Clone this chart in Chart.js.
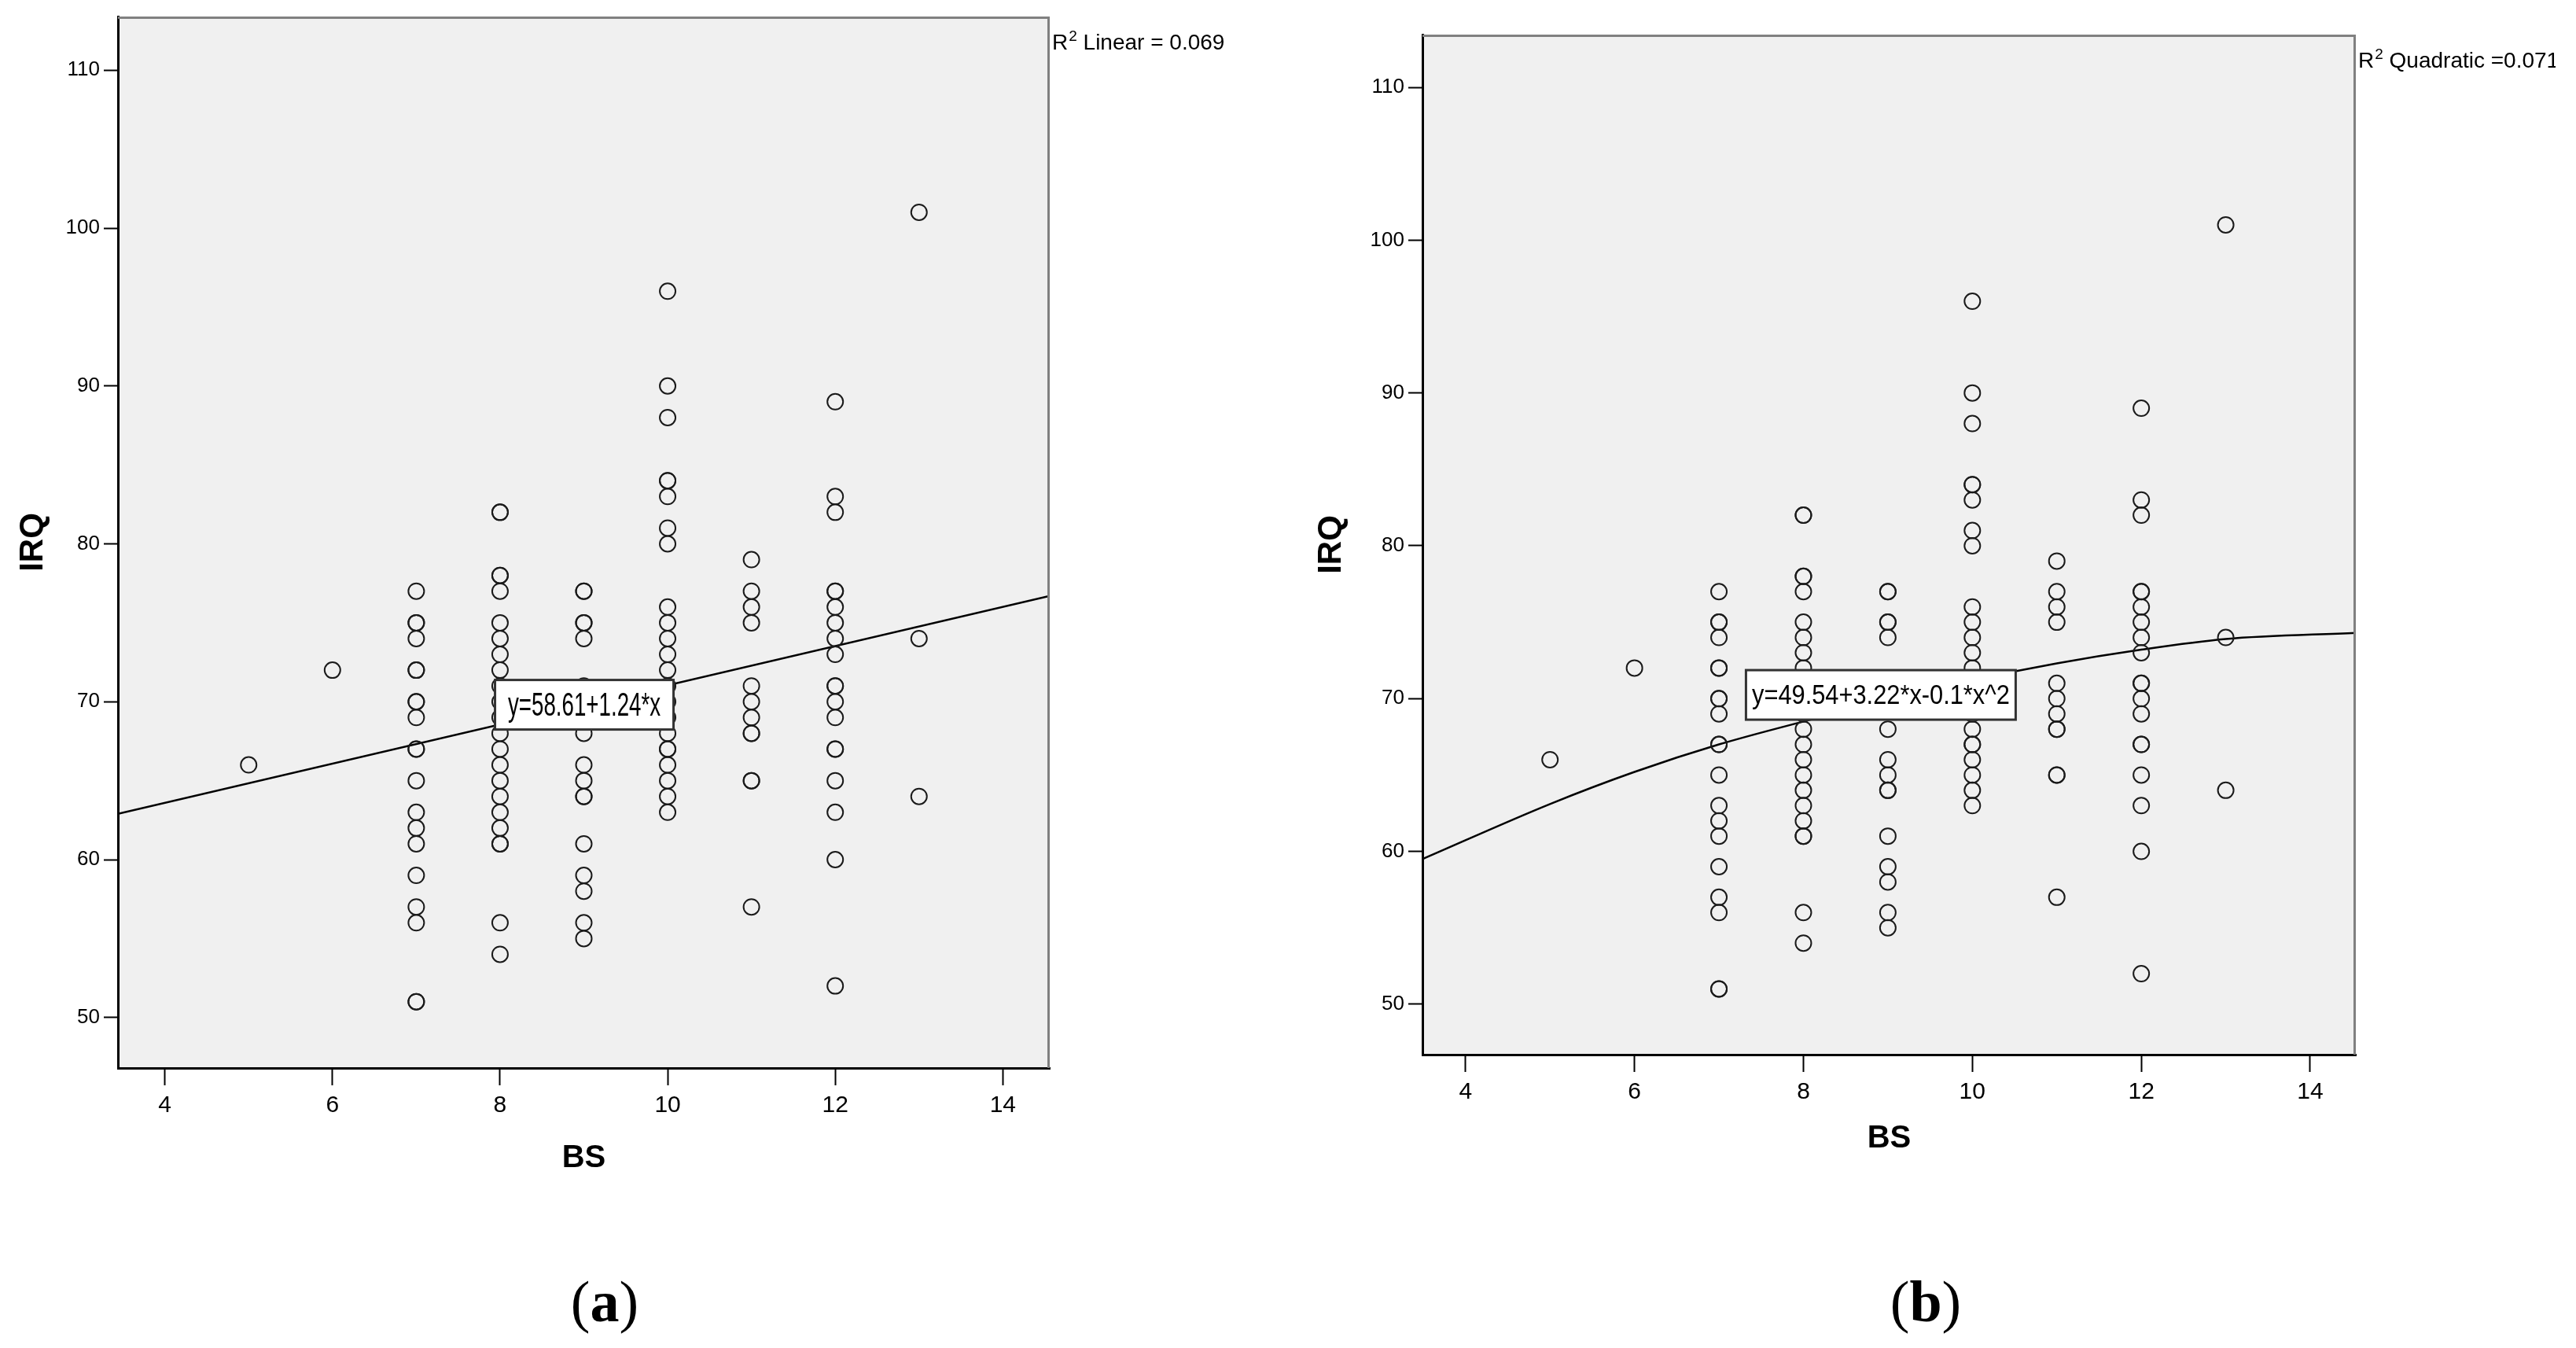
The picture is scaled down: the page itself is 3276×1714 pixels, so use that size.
<!DOCTYPE html>
<html>
<head>
<meta charset="utf-8">
<title>IRQ vs BS</title>
<script src="https://cdn.jsdelivr.net/npm/chart.js@4.4.1/dist/chart.umd.min.js"></script>
<style>
  body {
    margin: 0;
    width: 3276px;
    height: 1714px;
    background: #fff;
    position: relative;
    overflow: hidden;
  }
  .panel { position: absolute; top: 0; }
  .caption {
    position: absolute;
    top: 1618px;
    font-family: "Liberation Serif", "Times New Roman", serif;
    font-size: 74px;
    line-height: 1;
    transform: translateX(-50%);
    color: #000;
  }
</style>
</head>
<body>
<div class="panel" style="left:0px"><canvas id="chartA" width="1600" height="1498"></canvas></div>
<div class="panel" style="left:1650px"><canvas id="chartB" width="1600" height="1481"></canvas></div>
<div class="caption" style="left:769px">(<b>a</b>)</div>
<div class="caption" style="left:2449px">(<b>b</b>)</div>

<script>
// BS scores and the IRQ values found at each of them (same data in both panels)
const bsLevels = [5, 6, 7, 8, 9, 10, 11, 12, 13];
const irqAtBs5 = [66];
const irqAtBs6 = [72];
const irqAtBs7 = [77, 75, 75, 74, 72, 72, 70, 70, 69, 67, 67, 65, 63, 62, 61, 59, 57, 56, 51, 51];
const irqAtBs8 = [82, 82, 78, 78, 77, 75, 74, 73, 72, 71, 70, 69, 68, 67, 66, 65, 64, 63, 62, 61, 61, 56, 54];
const irqAtBs9 = [77, 77, 75, 75, 74, 71, 68, 66, 65, 64, 64, 61, 59, 58, 56, 55];
const irqAtBs10 = [96, 90, 88, 84, 84, 83, 81, 80, 76, 75, 74, 73, 72, 71, 70, 69, 68, 67, 67, 66, 65, 64, 63];
const irqAtBs11 = [79, 77, 76, 75, 71, 70, 69, 68, 68, 65, 65, 57];
const irqAtBs12 = [89, 83, 82, 77, 77, 76, 75, 74, 73, 71, 71, 70, 69, 67, 67, 65, 63, 60, 52];
const irqAtBs13 = [101, 74, 64];

const xTickValues = [4, 6, 8, 10, 12, 14];
const yTickValues = [50, 60, 70, 80, 90, 100, 110];

// fit lines
const linearFitX = [3.44, 14.56];
const linearFitY = [62.9, 76.7];
const quadFitX = [3.49, 5, 6, 7, 8, 9, 10, 11, 12, 13, 14.54];
const quadFitY = [59.5, 63.1, 65.2, 67.0, 68.5, 69.9, 71.2, 72.3, 73.2, 73.9, 74.3];

const irqByBs = [irqAtBs5, irqAtBs6, irqAtBs7, irqAtBs8, irqAtBs9, irqAtBs10, irqAtBs11, irqAtBs12, irqAtBs13];

function scatterPoints() {
  const pts = [];
  bsLevels.forEach((bs, i) => {
    irqByBs[i].forEach(v => pts.push({ x: bs, y: v }));
  });
  return pts;
}

function zip(xs, ys) {
  return xs.map((x, i) => ({ x: x, y: ys[i] }));
}

const SANS = '"Liberation Sans", Arial, sans-serif';

// grey plot background, grey top/right frame, R² note
const plotFrame = {
  id: 'plotFrame',
  beforeDraw(chart) {
    const a = chart.chartArea;
    const ctx = chart.ctx;
    ctx.save();
    ctx.fillStyle = '#f0f0f0';
    ctx.fillRect(a.left, a.top, a.right - a.left, a.bottom - a.top);
    ctx.restore();
  },
  afterDraw(chart, args, opts) {
    const a = chart.chartArea;
    const ctx = chart.ctx;
    ctx.save();
    ctx.strokeStyle = '#808080';
    ctx.lineWidth = 3;
    ctx.beginPath();
    ctx.moveTo(a.left, a.top + 1.5);
    ctx.lineTo(a.right - 1.5, a.top + 1.5);
    ctx.lineTo(a.right - 1.5, a.bottom);
    ctx.stroke();

    // R² label
    ctx.fillStyle = '#000';
    ctx.textBaseline = 'alphabetic';
    let x = a.right + 3;
    const base = a.top + 42;
    ctx.font = '28px ' + SANS;
    ctx.fillText('R', x, base);
    x += ctx.measureText('R').width + 1;
    ctx.font = '19px ' + SANS;
    ctx.fillText('2', x, base - 11);
    x += ctx.measureText('2').width;
    ctx.font = '28px ' + SANS;
    ctx.fillText(opts.note, x, base);
    ctx.restore();
  }
};

// white box holding the fitted equation
const eqBox = {
  id: 'eqBox',
  afterDatasetsDraw(chart, args, opts) {
    const ctx = chart.ctx;
    const px = chart.scales.x.getPixelForValue(opts.x);
    const py = chart.scales.y.getPixelForValue(opts.y);
    ctx.save();
    ctx.fillStyle = '#fff';
    ctx.fillRect(px, py - opts.h, opts.w, opts.h);
    ctx.strokeStyle = '#333';
    ctx.lineWidth = 3;
    ctx.strokeRect(px, py - opts.h, opts.w, opts.h);
    ctx.translate(px + opts.w / 2, py - opts.h / 2 + 2);
    ctx.scale(opts.squeeze, 1);
    ctx.fillStyle = '#000';
    ctx.font = opts.size + 'px ' + SANS;
    ctx.textAlign = 'center';
    ctx.textBaseline = 'middle';
    ctx.fillText(opts.text, 0, 0);
    ctx.restore();
  }
};

function makeChart(id, cfg) {
  const ctx = document.getElementById(id).getContext('2d');
  return new Chart(ctx, {
    type: 'scatter',
    data: {
      datasets: [
        {
          data: scatterPoints(),
          pointStyle: 'circle',
          pointRadius: 10,
          pointBorderWidth: 2,
          pointBorderColor: '#1a1a1a',
          pointBackgroundColor: 'rgba(0,0,0,0)'
        },
        {
          type: 'line',
          data: cfg.fit,
          showLine: true,
          pointRadius: 0,
          borderColor: '#000',
          borderWidth: 2.5,
          fill: false,
          cubicInterpolationMode: 'monotone'
        }
      ]
    },
    options: {
      responsive: false,
      animation: false,
      devicePixelRatio: 1,
      layout: { padding: { left: 0, top: cfg.top, right: cfg.right, bottom: 0 } },
      plugins: {
        legend: { display: false },
        tooltip: { enabled: false },
        plotFrame: { note: cfg.note },
        eqBox: cfg.box
      },
      scales: {
        x: {
          type: 'linear',
          min: cfg.xMin,
          max: cfg.xMax,
          afterBuildTicks: s => { s.ticks = xTickValues.map(v => ({ value: v })); },
          afterFit: s => { s.height = 140; },
          grid: { drawOnChartArea: false, drawTicks: true, tickLength: 22, tickWidth: 2, tickColor: '#000' },
          border: { display: true, color: '#000', width: 3 },
          ticks: { color: '#000', font: { family: SANS, size: 30 }, padding: 8, maxRotation: 0 },
          title: {
            display: true, text: 'BS', color: '#000',
            font: { family: SANS, size: 40, weight: 'bold' },
            padding: { top: 0, bottom: cfg.xTitlePad }
          }
        },
        y: {
          type: 'linear',
          min: cfg.yMin,
          max: cfg.yMax,
          afterBuildTicks: s => { s.ticks = yTickValues.map(v => ({ value: v })); },
          afterFit: s => { s.width = cfg.yWidth; },
          grid: { drawOnChartArea: false, drawTicks: true, tickLength: 18, tickWidth: 2, tickColor: '#000' },
          border: { display: true, color: '#000', width: 3 },
          ticks: { color: '#000', font: { family: SANS, size: 26 }, padding: 5 },
          title: {
            display: true, text: 'IRQ', color: '#000',
            font: { family: SANS, size: 42, weight: 'bold' },
            padding: { top: cfg.yTitlePad, bottom: 0 }
          }
        }
      }
    },
    plugins: [plotFrame, eqBox]
  });
}

makeChart('chartA', {
  top: 21, right: 265, yWidth: 150,
  xMin: 3.44, xMax: 14.56, yMin: 46.8, yMax: 113.4,
  xTitlePad: 1, yTitlePad: 17,
  fit: zip(linearFitX, linearFitY),
  note: ' Linear = 0.069',
  box: { text: 'y=58.61+1.24*x', x: 7.94, y: 68.24, w: 227, h: 63, size: 42, squeeze: 0.66 }
});

makeChart('chartB', {
  top: 44, right: 254, yWidth: 159,
  xMin: 3.49, xMax: 14.54, yMin: 46.7, yMax: 113.45,
  xTitlePad: 9, yTitlePad: 18,
  fit: zip(quadFitX, quadFitY),
  note: ' Quadratic =0.071',
  box: { text: 'y=49.54+3.22*x-0.1*x^2', x: 7.32, y: 68.62, w: 343, h: 63, size: 35, squeeze: 0.88 }
});
</script>
</body>
</html>
